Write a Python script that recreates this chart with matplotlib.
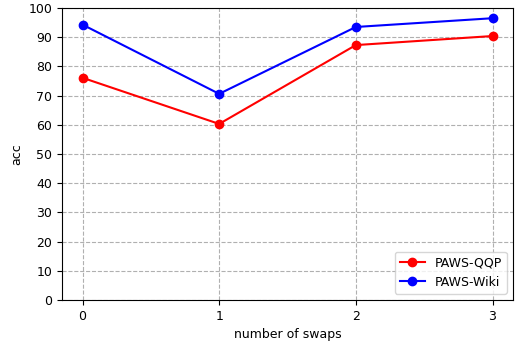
import numpy as np
import matplotlib
matplotlib.use("Agg")
import matplotlib.pyplot as plt

# data
swaps = [0, 1, 2, 3]
qqp = [76.1, 60.3, 87.3, 90.4]
wiki = [94.3, 70.6, 93.5, 96.5]

plt.rcParams['font.size'] = 9

fig = plt.figure(figsize=(5.32, 3.42), dpi=100)
ax = fig.add_axes([62/532, 42/342, (513-62)/532, (300-8)/342])
ax.plot(swaps, qqp, 'o-', color='red', label='PAWS-QQP')
ax.plot(swaps, wiki, 'o-', color='blue', label='PAWS-Wiki')
ax.set_ylim(0, 100)
ax.set_yticks(np.arange(0, 101, 10))
ax.set_xticks(swaps)
ax.set_xlabel('number of swaps')
ax.set_ylabel('acc')
ax.grid(True, linestyle='--', color='#b0b0b0')
ax.legend(loc='lower right')
fig.savefig('out.png', dpi=100)
